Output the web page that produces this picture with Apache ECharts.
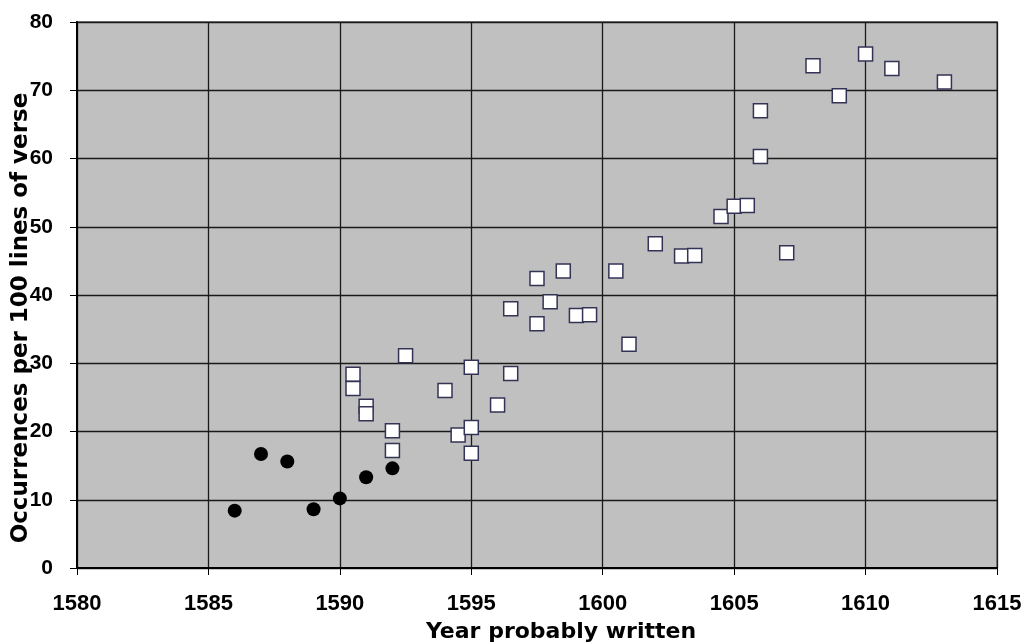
<!DOCTYPE html>
<html>
<head>
<meta charset="utf-8">
<script src="https://cdn.jsdelivr.net/npm/echarts@6/dist/echarts.min.js"></script>
<style>html,body{margin:0;padding:0;background:#fff}#c{width:1025px;height:644px}</style>
</head>
<body>
<div id="c"></div>
<script>
const xTicks = [1580, 1585, 1590, 1595, 1600, 1605, 1610, 1615];
const yTicks = [0, 10, 20, 30, 40, 50, 60, 70, 80];
const xTitle = 'Year probably written';
const yTitle = 'Occurrences per 100 lines of verse';
const earlyYears = [1586, 1587, 1588, 1589, 1590, 1591, 1592];
const earlyValues = [8.4, 16.7, 15.6, 8.6, 10.2, 13.3, 14.6];
const laterYears = [1590.5, 1590.5, 1591, 1591, 1592, 1592, 1592.5, 1594, 1594.5, 1595, 1595, 1595, 1596, 1596.5, 1596.5, 1597.5, 1597.5, 1598, 1598.5, 1599, 1599.5, 1600.5, 1601, 1602, 1603, 1603.5, 1604.5, 1605, 1605.5, 1606, 1606, 1607, 1608, 1609, 1610, 1611, 1613];
const laterValues = [28.4, 26.3, 23.7, 22.6, 20.1, 17.2, 31.1, 26.0, 19.5, 20.6, 16.8, 29.4, 23.9, 28.5, 38.0, 35.8, 42.4, 39.0, 43.5, 37.0, 37.1, 43.5, 32.8, 47.5, 45.7, 45.8, 51.5, 53.0, 53.1, 60.3, 67.0, 46.2, 73.6, 69.2, 75.3, 73.2, 71.2];

const chart = echarts.init(document.getElementById('c'));
const font = 'Liberation Sans, Arial, sans-serif';
chart.setOption({
  animation: false,
  grid: { left: 77, top: 22, width: 920, height: 546, show: true, backgroundColor: '#c0c0c0', borderColor: '#808080', borderWidth: 2 },
  graphic: [
    { type: 'text', x: 561, y: 632, silent: true,
      style: { text: xTitle, font: 'bold 22px "DejaVu Sans", sans-serif', fill: '#000', textAlign: 'center', textVerticalAlign: 'middle' } },
    { type: 'text', x: 21, y: 318, rotation: Math.PI / 2, silent: true,
      style: { text: yTitle, font: 'bold 23px "DejaVu Sans", sans-serif', fill: '#000', textAlign: 'center', textVerticalAlign: 'middle' } }
  ],
  xAxis: {
    type: 'value', min: xTicks[0], max: xTicks[xTicks.length - 1], interval: 5,
    axisLine: { show: true, onZero: false, lineStyle: { color: '#000', width: 2 } },
    axisTick: { show: true, length: 7, lineStyle: { color: '#000', width: 1 } },
    axisLabel: { margin: 25, fontFamily: font, fontWeight: 'bold', fontSize: 22, color: '#000', formatter: v => String(v) },
    splitLine: { show: true, lineStyle: { color: '#1a1a1a', width: 1.3 } }
  },
  yAxis: {
    type: 'value', min: yTicks[0], max: yTicks[yTicks.length - 1], interval: 10,
    axisLine: { show: true, onZero: false, lineStyle: { color: '#000', width: 2 } },
    axisTick: { show: true, length: 7, lineStyle: { color: '#000', width: 1 } },
    axisLabel: { margin: 24, fontFamily: font, fontWeight: 'bold', fontSize: 21, color: '#000', formatter: v => String(v) },
    splitLine: { show: true, lineStyle: { color: '#1a1a1a', width: 1.3 } }
  },
  series: [
    {
      type: 'scatter', symbol: 'circle', symbolSize: 14,
      itemStyle: { color: '#000', opacity: 1 },
      data: earlyYears.map((y, i) => [y, earlyValues[i]])
    },
    {
      type: 'scatter', symbol: 'rect', symbolSize: 14,
      itemStyle: { color: '#fff', borderColor: '#333355', borderWidth: 1.5, opacity: 1 },
      data: laterYears.map((y, i) => [y, laterValues[i]])
    }
  ]
});
</script>
</body>
</html>
